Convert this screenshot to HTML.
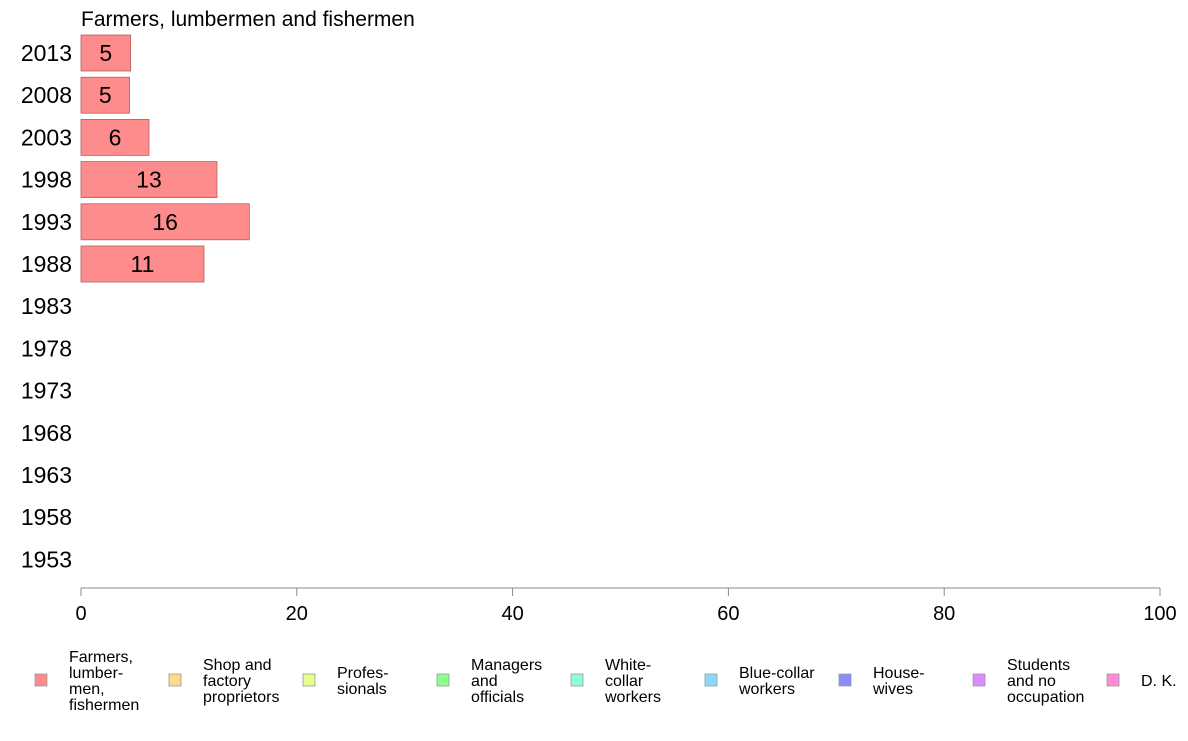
<!DOCTYPE html>
<html><head><meta charset="utf-8"><style>
body{margin:0;background:#fff;}
svg text{font-family:"Liberation Sans",sans-serif;}
</style></head><body>
<svg id="chart" width="1188" height="736">
<text x="81" y="26" font-size="21" fill="#000">Farmers, lumbermen and fishermen</text>
<g id="bars"></g>
<g id="axis"></g>
<g id="legend"></g>
</svg>
<script>
const years = ["2013","2008","2003","1998","1993","1988","1983","1978","1973","1968","1963","1958","1953"];
const values = [4.6, 4.5, 6.3, 12.6, 15.6, 11.4, null, null, null, null, null, null, null];
const valueLabels = ["5","5","6","13","16","11","","","","","","",""];
const ticks = [0,20,40,60,80,100];
const legendLabels = [["Farmers,","lumber-","men,","fishermen"],["Shop and","factory","proprietors"],["Profes-","sionals"],["Managers","and","officials"],["White-","collar","workers"],["Blue-collar","workers"],["House-","wives"],["Students","and no","occupation"],["D. K."]];
const legendColors = ["#ff8c8c","#ffd98c","#e5ff8c","#8cff8c","#8cffd9","#8cd9ff","#8c8cff","#d98cff","#ff8cd9"];

const NS="http://www.w3.org/2000/svg";
const x0=81,x1=1160;
const xs=v=>x0+(x1-x0)*v/100;
const rowTop=35, rowStep=42.2, barH=36;
const ys=i=>rowTop+i*rowStep;
function mk(t,a,p){const e=document.createElementNS(NS,t);for(const k in a)e.setAttribute(k,a[k]);p.appendChild(e);return e;}
const bars=document.getElementById('bars');
years.forEach((y,i)=>{
  const t=mk('text',{x:72,y:ys(i)+barH/2+8,'font-size':23,'text-anchor':'end'},bars);
  
  
  t.textContent=y;
  if(values[i]!=null){
    const r=mk('rect',{x:x0,y:ys(i),width:xs(values[i])-x0,height:barH,fill:'#ff8c8c',stroke:'#b06060','stroke-width':0.8},bars);
    
    
    const l=mk('text',{x:(x0+xs(values[i]))/2,y:ys(i)+barH/2+8,'font-size':23,'text-anchor':'middle'},bars);
    
    
    l.textContent=valueLabels[i];
  }
});
const ax=document.getElementById('axis');
const al=mk('line',{x1:x0,x2:x1,y1:588,y2:588,stroke:'#888'},ax);


ticks.forEach(v=>{
  const tk=mk('line',{x1:xs(v),x2:xs(v),y1:588,y2:596,stroke:'#888'},ax);
  
  
  const tl=mk('text',{x:xs(v),y:620,'font-size':20,'text-anchor':'middle'},ax);
  
  
  tl.textContent=v;
});
const lg=document.getElementById('legend');
legendLabels.forEach((lines,i)=>{
  const bx=35+i*134;
  const g=mk('g',{},lg);
  
  
  mk('rect',{x:bx,y:674,width:12,height:12,fill:legendColors[i],stroke:'#999','stroke-width':0.8},g);
  const n=lines.length, startY=680-(n-1)*16/2+6;
  lines.forEach((s,j)=>{
    const t=mk('text',{x:bx+34,y:startY+j*16,'font-size':16},g);
    t.textContent=s;
  });
});
</script>
</body></html>
